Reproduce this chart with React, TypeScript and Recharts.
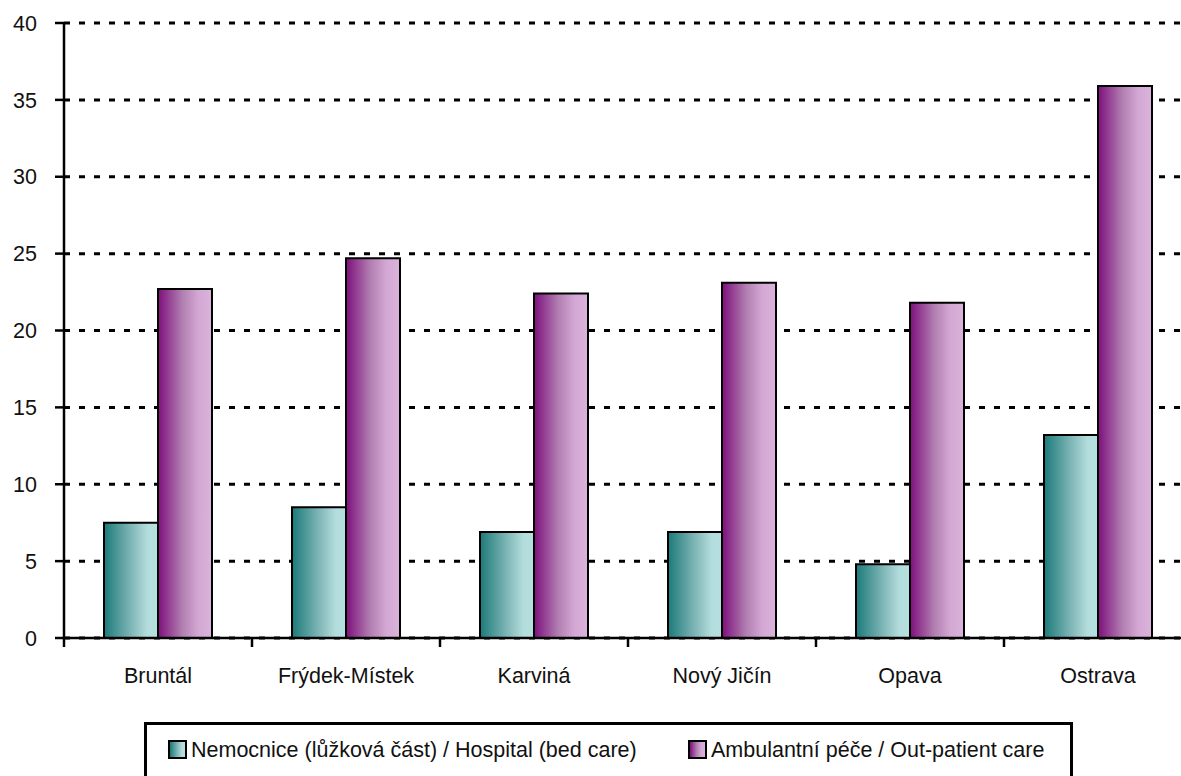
import { BarChart, Bar, XAxis, YAxis, CartesianGrid } from 'recharts'

const districts = ['Bruntál', 'Frýdek-Místek', 'Karviná', 'Nový Jičín', 'Opava', 'Ostrava']
const hospital = [7.5, 8.5, 6.9, 6.9, 4.8, 13.2]
const outpatient = [22.7, 24.7, 22.4, 23.1, 21.8, 35.9]
const yTicks = [0, 5, 10, 15, 20, 25, 30, 35, 40]

const hospitalName = 'Nemocnice (lůžková část) / Hospital (bed care)'
const outpatientName = 'Ambulantní péče / Out-patient care'

const data = districts.map((name, i) => ({ name, hospital: hospital[i], outpatient: outpatient[i] }))

const FONT = '"Liberation Sans", Arial, sans-serif'
const tealCss = 'linear-gradient(to right, #1c7a7a 0%, #7fb6b6 50%, #b3dcdc 80%, #b6dfdf 100%)'
const purpleCss = 'linear-gradient(to right, #7d0f7b 0%, #b17fb1 45%, #d4a8d4 75%, #dab3da 100%)'

function XTick(props: any) {
  const { x, y, payload } = props
  const off = payload?.offset ?? 0
  return (
    <g>
      <line x1={x - off} x2={x - off} y1={y} y2={y + 9} stroke="#000" strokeWidth={2.5} />
      <text x={x} y={y + 45} textAnchor="middle" fontSize={21.5} fontFamily={FONT} fill="#111">
        {payload.value}
      </text>
    </g>
  )
}

function LegendItem({ left, bg, label }: { left: number; bg: string; label: string }) {
  return (
    <div style={{ position: 'absolute', left, top: 14, height: 22, lineHeight: '22px', whiteSpace: 'nowrap' }}>
      <span style={{ position: 'absolute', left: 0, top: 1, width: 15, height: 15, border: '2px solid #000', background: bg }} />
      <span style={{ position: 'absolute', left: 23, top: 0, fontSize: 21.5, fontFamily: FONT, color: '#111' }}>{label}</span>
    </div>
  )
}

export default function App() {
  return (
    <div style={{ position: 'fixed', left: 8, top: 8, width: 1173, height: 768, overflow: 'hidden', background: '#fff' }}>
      <BarChart width={1190} height={768} data={data} margin={{ top: 15, right: 6, left: 0, bottom: 0 }} barSize={54} barGap={0}>
        <defs>
          <linearGradient id="teal" x1="0" y1="0" x2="1" y2="0">
            <stop offset="0%" stopColor="#1c7a7a" />
            <stop offset="50%" stopColor="#7fb6b6" />
            <stop offset="80%" stopColor="#b3dcdc" />
            <stop offset="100%" stopColor="#b6dfdf" />
          </linearGradient>
          <linearGradient id="purple" x1="0" y1="0" x2="1" y2="0">
            <stop offset="0%" stopColor="#7d0f7b" />
            <stop offset="45%" stopColor="#b17fb1" />
            <stop offset="75%" stopColor="#d4a8d4" />
            <stop offset="100%" stopColor="#dab3da" />
          </linearGradient>
        </defs>
        <CartesianGrid vertical={false} stroke="#000" strokeWidth={3} strokeDasharray="6 9" />
        <XAxis
          dataKey="name"
          height={138}
          tickSize={0}
          tickMargin={0}
          tickLine={false}
          axisLine={{ stroke: '#000', strokeWidth: 2.5 }}
          tick={<XTick />}
          interval={0}
        />
        <YAxis
          width={56}
          domain={[0, 40]}
          ticks={yTicks}
          tickSize={9}
          tickMargin={18}
          tickLine={{ stroke: '#000', strokeWidth: 2.5 }}
          axisLine={{ stroke: '#000', strokeWidth: 2.5 }}
          tick={{ fontSize: 21.5, fontFamily: FONT, fill: '#111' }}
        />
        <Bar dataKey="hospital" name={hospitalName} fill="url(#teal)" stroke="#000" strokeWidth={2} isAnimationActive={false} />
        <Bar dataKey="outpatient" name={outpatientName} fill="url(#purple)" stroke="#000" strokeWidth={2} isAnimationActive={false} />
      </BarChart>
      <div style={{ position: 'absolute', left: 136, top: 714, width: 923, height: 80, border: '3px solid #000', background: '#fff' }}>
        <LegendItem left={21} bg={tealCss} label={hospitalName} />
        <LegendItem left={541} bg={purpleCss} label={outpatientName} />
      </div>
    </div>
  )
}
